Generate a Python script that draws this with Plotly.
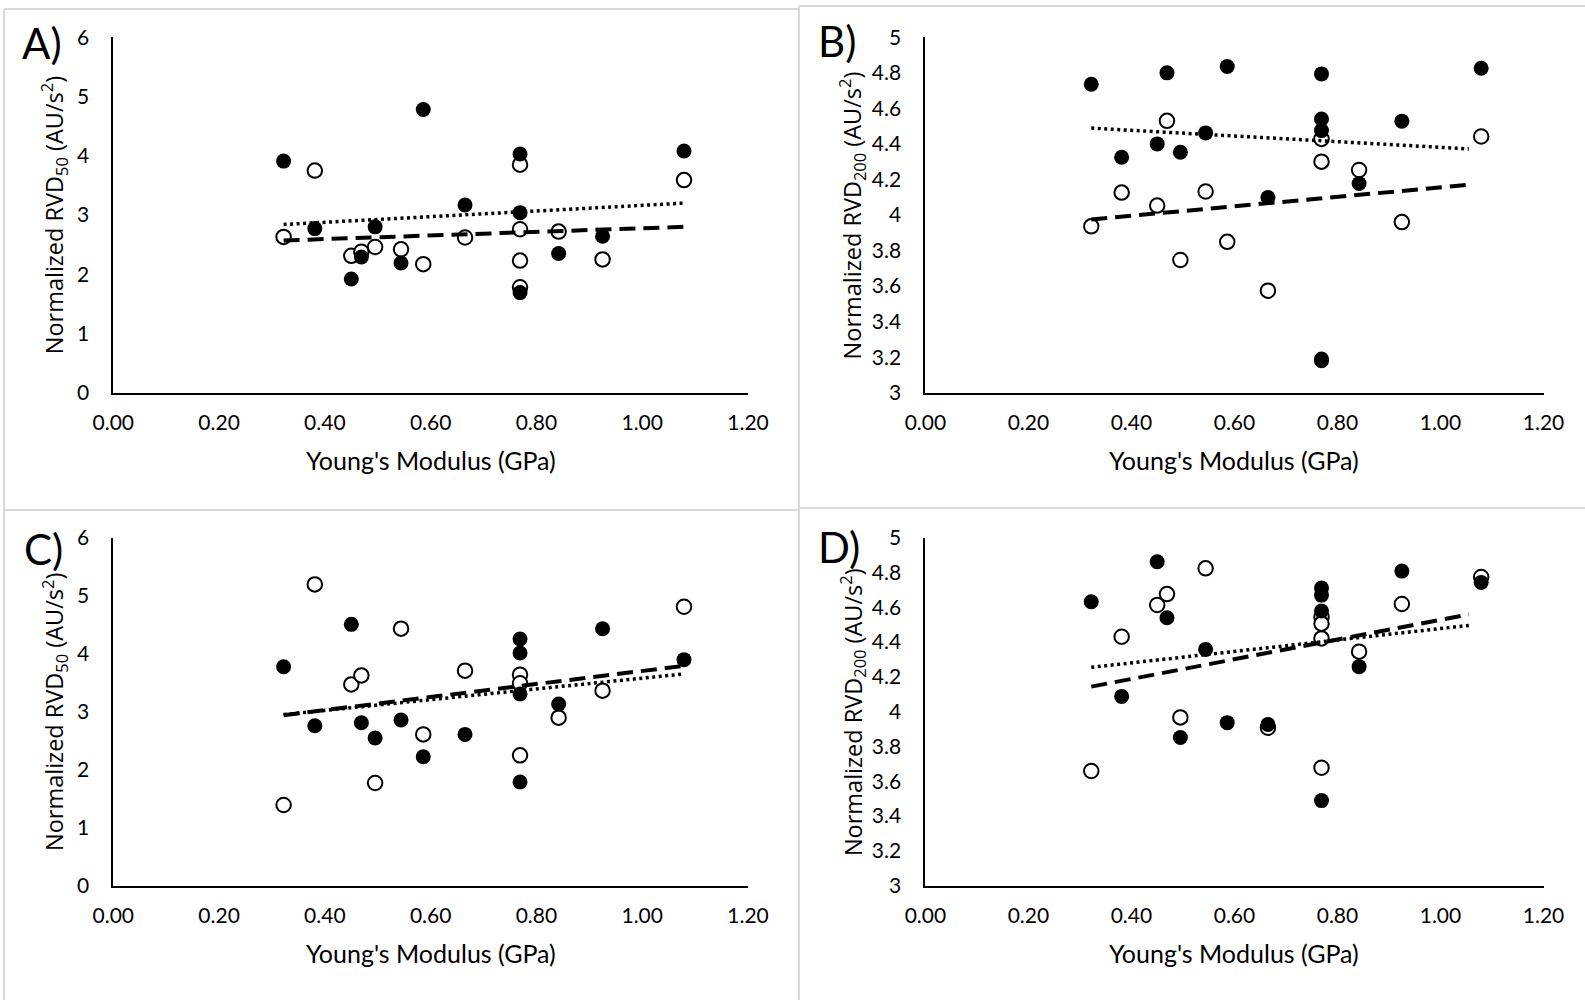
import plotly.graph_objects as go

W, H = 1585, 1000

# ---------------- data ----------------
a_fill_x = [0.322, 0.381, 0.45, 0.469, 0.495, 0.544, 0.586, 0.665, 0.769, 0.769, 0.769, 0.842, 0.925, 1.079]
a_fill_y = [3.91, 2.77, 1.92, 2.29, 2.80, 2.19, 4.78, 3.17, 4.03, 3.04, 1.69, 2.35, 2.64, 4.08]
a_open_x = [0.322, 0.381, 0.45, 0.469, 0.495, 0.544, 0.586, 0.665, 0.769, 0.769, 0.769, 0.769, 0.842, 0.925, 1.079]
a_open_y = [2.63, 3.75, 2.31, 2.38, 2.46, 2.42, 2.17, 2.62, 3.85, 2.76, 2.23, 1.78, 2.72, 2.25, 3.59]

b_fill_x = [0.322, 0.381, 0.45, 0.469, 0.495, 0.544, 0.586, 0.665, 0.769, 0.769, 0.769, 0.769, 0.769, 0.842, 0.925, 1.079]
b_fill_y = [4.736, 4.325, 4.40, 4.80, 4.353, 4.462, 4.836, 4.098, 4.794, 4.54, 4.475, 3.19, 3.18, 4.177, 4.528, 4.826]
b_open_x = [0.322, 0.381, 0.45, 0.469, 0.495, 0.544, 0.586, 0.665, 0.769, 0.769, 0.842, 0.925, 1.079]
b_open_y = [3.936, 4.126, 4.053, 4.53, 3.747, 4.132, 3.849, 3.574, 4.428, 4.30, 4.253, 3.96, 4.442]

c_fill_x = [0.322, 0.381, 0.45, 0.469, 0.495, 0.544, 0.586, 0.665, 0.769, 0.769, 0.769, 0.769, 0.842, 0.925, 1.079]
c_fill_y = [3.776, 2.759, 4.506, 2.81, 2.546, 2.856, 2.224, 2.609, 4.253, 4.011, 3.305, 1.787, 3.132, 4.431, 3.897]
c_open_x = [0.322, 0.381, 0.45, 0.469, 0.495, 0.544, 0.586, 0.665, 0.769, 0.769, 0.769, 0.842, 0.925, 1.079]
c_open_y = [1.391, 5.195, 3.471, 3.626, 1.77, 4.431, 2.609, 3.707, 3.638, 3.49, 2.247, 2.897, 3.362, 4.81]

d_fill_x = [0.322, 0.381, 0.45, 0.469, 0.495, 0.544, 0.586, 0.665, 0.769, 0.769, 0.769, 0.769, 0.842, 0.925, 1.079]
d_fill_y = [4.632, 4.088, 4.862, 4.540, 3.852, 4.358, 3.937, 3.927, 4.711, 4.670, 4.579, 3.489, 4.259, 4.808, 4.743]
d_open_x = [0.322, 0.381, 0.45, 0.469, 0.495, 0.544, 0.665, 0.769, 0.769, 0.769, 0.769, 0.842, 0.925, 1.079]
d_open_y = [3.659, 4.431, 4.613, 4.676, 3.967, 4.824, 3.908, 4.544, 4.506, 4.421, 3.678, 4.345, 4.619, 4.774]

# trend line endpoints
a_trend_x = [0.322, 1.078]
a_dot_y = [2.84, 3.20]
a_dash_y = [2.57, 2.80]
b_trend_x = [0.322, 1.055]
b_dot_y = [4.489, 4.372]
b_dash_y = [3.975, 4.17]
c_trend_x = [0.322, 1.078]
c_dot_y = [2.95, 3.65]
c_dash_y = [2.94, 3.79]
d_trend_x = [0.322, 1.055]
d_dot_y = [4.255, 4.496]
d_dash_y = [4.144, 4.559]

x_ticks = [0.0, 0.2, 0.4, 0.6, 0.8, 1.0, 1.2]
y_ticks_50 = [0, 1, 2, 3, 4, 5, 6]
y_ticks_200 = [3.0, 3.2, 3.4, 3.6, 3.8, 4.0, 4.2, 4.4, 4.6, 4.8, 5.0]
y_ticktext_200 = ["3", "3.2", "3.4", "3.6", "3.8", "4", "4.2", "4.4", "4.6", "4.8", "5"]

panel_labels = ["A)", "B)", "C)", "D)"]
x_title = "Young's Modulus (GPa)"
y_title_50 = "Normalized RVD<sub>50</sub> (AU/s<sup>2</sup>)"
y_title_200 = "Normalized RVD<sub>200</sub> (AU/s<sup>2</sup>)"

# ---------------- layout geometry (pixels) ----------------
def fx(px):
    return px / W

def fy(py):
    return 1 - py / H

left_x = (113.3, 748.0)
right_x = (925.4, 1543.5)
top_y = (37.3, 392.7)
bot_y = (537.7, 885.7)

panels = [
    dict(fx_=a_fill_x, fy_=a_fill_y, ox=a_open_x, oy=a_open_y, tx=a_trend_x, dot=a_dot_y, dash=a_dash_y,
         xd=left_x, yd=top_y, yr=[0, 6], yt=y_ticks_50, ytt=[str(v) for v in y_ticks_50], yti=y_title_50,
         ytoff=59, lbl_dx=93, lbl_y=43),
    dict(fx_=b_fill_x, fy_=b_fill_y, ox=b_open_x, oy=b_open_y, tx=b_trend_x, dot=b_dot_y, dash=b_dash_y,
         xd=right_x, yd=top_y, yr=[3, 5], yt=y_ticks_200, ytt=y_ticktext_200, yti=y_title_200,
         ytoff=73, lbl_dx=109, lbl_y=41),
    dict(fx_=c_fill_x, fy_=c_fill_y, ox=c_open_x, oy=c_open_y, tx=c_trend_x, dot=c_dot_y, dash=c_dash_y,
         xd=left_x, yd=bot_y, yr=[0, 6], yt=y_ticks_50, ytt=[str(v) for v in y_ticks_50], yti=y_title_50,
         ytoff=59, lbl_dx=91, lbl_y=549),
    dict(fx_=d_fill_x, fy_=d_fill_y, ox=d_open_x, oy=d_open_y, tx=d_trend_x, dot=d_dot_y, dash=d_dash_y,
         xd=right_x, yd=bot_y, yr=[3, 5], yt=y_ticks_200, ytt=y_ticktext_200, yti=y_title_200,
         ytoff=73, lbl_dx=109, lbl_y=547),
]

TICKFONT = dict(family="Lato, Carlito, sans-serif", size=21, color="#000000")
fig = go.Figure()
annotations = []
layout = {}

for i, p in enumerate(panels):
    n = "" if i == 0 else str(i + 1)
    xa, ya = "x" + n, "y" + n
    fig.add_trace(go.Scatter(x=p["ox"], y=p["oy"], mode="markers", xaxis=xa, yaxis=ya,
                             marker=dict(size=14.5, color="white", line=dict(color="black", width=2)),
                             showlegend=False, hoverinfo="x+y"))
    fig.add_trace(go.Scatter(x=p["fx_"], y=p["fy_"], mode="markers", xaxis=xa, yaxis=ya,
                             marker=dict(size=15, color="black", line=dict(color="black", width=0)),
                             showlegend=False, hoverinfo="x+y"))
    fig.add_trace(go.Scatter(x=p["tx"], y=p["dot"], mode="lines", xaxis=xa, yaxis=ya,
                             line=dict(color="black", width=3.5, dash="3px,3.5px"),
                             showlegend=False, hoverinfo="skip"))
    fig.add_trace(go.Scatter(x=p["tx"], y=p["dash"], mode="lines", xaxis=xa, yaxis=ya,
                             line=dict(color="black", width=4, dash="16px,8px"),
                             showlegend=False, hoverinfo="skip"))

    layout["xaxis" + n] = dict(
        domain=[fx(p["xd"][0]), fx(p["xd"][1])], anchor=ya, range=[0, 1.2],
        tickvals=x_ticks, tickformat=".2f", showgrid=False, zeroline=False,
        showline=True, linecolor="black", linewidth=2, ticks="", tickfont=TICKFONT,
        ticklabelstandoff=10, fixedrange=True, automargin=False,
    )
    layout["yaxis" + n] = dict(
        domain=[fy(p["yd"][1]), fy(p["yd"][0])], anchor=xa, range=p["yr"],
        tickvals=p["yt"], ticktext=p["ytt"], showgrid=False, zeroline=False,
        showline=True, linecolor="black", linewidth=2, ticks="", tickfont=TICKFONT,
        ticklabelstandoff=18, fixedrange=True, automargin=False,
    )

    cx = (p["xd"][0] + p["xd"][1]) / 2
    cy = (p["yd"][0] + p["yd"][1]) / 2
    # x title
    annotations.append(dict(text=x_title, x=fx(cx), y=fy(p["yd"][1] + 67), xref="paper", yref="paper",
                            xanchor="center", yanchor="middle", showarrow=False,
                            font=dict(family="Lato, Carlito, sans-serif", size=25, color="#000000")))
    # y title
    annotations.append(dict(text=p["yti"], x=fx(p["xd"][0] - p["ytoff"]), y=fy(cy), xref="paper", yref="paper",
                            xanchor="center", yanchor="middle", showarrow=False, textangle=-90,
                            font=dict(family="Open Sans, sans-serif", size=23.5, color="#000000")))
    # panel label
    annotations.append(dict(text=panel_labels[i], x=fx(p["xd"][0] - p["lbl_dx"]), y=fy(p["lbl_y"]),
                            xref="paper", yref="paper", xanchor="left", yanchor="middle", showarrow=False,
                            font=dict(family="Lato, Carlito, sans-serif", size=42, color="#000000")))

# light grey panel borders
BC = "#d9d9d9"
shapes = []
def hline(x0, x1, y):
    shapes.append(dict(type="line", xref="paper", yref="paper", x0=fx(x0), x1=fx(x1), y0=fy(y), y1=fy(y),
                       line=dict(color=BC, width=2)))
def vline(x, y0, y1):
    shapes.append(dict(type="line", xref="paper", yref="paper", x0=fx(x), x1=fx(x), y0=fy(y0), y1=fy(y1),
                       line=dict(color=BC, width=2)))

hline(4, 799, 9)
hline(799, 1585, 6)
vline(4, 9, 1000)
vline(799, 6, 1000)
hline(4, 799, 510)
hline(799, 1585, 508)

fig.update_layout(
    width=W, height=H, margin=dict(l=0, r=0, t=0, b=0, pad=0, autoexpand=False),
    paper_bgcolor="white", plot_bgcolor="white",
    annotations=annotations, shapes=shapes, showlegend=False,
    **layout,
)

fig.write_html("out.html", config={"displayModeBar": False},
               post_script="document.body.style.margin='0px';document.body.style.overflow='hidden';")
